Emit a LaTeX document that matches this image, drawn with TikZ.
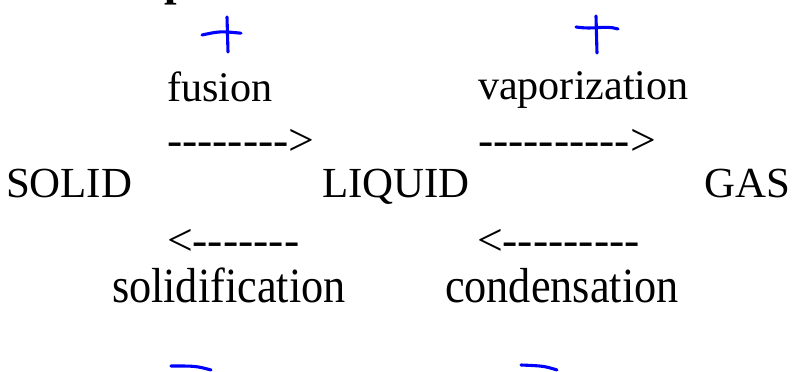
\documentclass[tikz,border=0pt]{standalone}
\usepackage{fontspec}
\usepackage{xcolor}
\setmainfont{Liberation Serif}[Ligatures=TeXOff]
\newfontfamily\narrowserif{Liberation Serif}[Ligatures=TeXOff, FakeStretch=0.9]
\definecolor{inkblue}{HTML}{0000FF}

\begin{document}
\begin{tikzpicture}[
  every node/.style={inner sep=0pt, outer sep=0pt, anchor=base west},
  phase/.style={font=\fontsize{30.5}{36}\selectfont},
  change/.style={font=\fontsize{30}{36}\selectfont},
  dashline/.style={font=\fontsize{32.5}{38}\selectfont},
  backchange/.style={font=\narrowserif\fontsize{35}{42}\selectfont},
  pen/.style={inkblue, line width=2.2pt, line cap=round, line join=round}
]

\useasboundingbox (0,0) rectangle (19.875,9.3);
\clip (0,0) rectangle (19.875,9.3);

%% Title, cut off by the top edge
\node[font=\fontsize{32}{38}\selectfont\bfseries] (title) at (4.1,9.4) {p};

%% Row 1: forward changes
\node[change] (fusion) at (4.175,6.75) {fusion};
\node[change] (vap) at (11.95,6.8) {vaporization};
\node[dashline] (fusarrow) at (4.175,5.42) {-------->};
\node[dashline] (vaparrow) at (11.95,5.42) {---------->};

%% Row 2: the three states
\node[phase] (solid) at (0.15,4.35) {SOLID};
\node[phase] (liquid) at (8.05,4.35) {LIQUID};
\node[phase, anchor=base east] (gas) at (19.75,4.35) {GAS};

%% Row 3: backward changes
\node[dashline] (solarrow) at (4.175,2.9) {<-------};
\node[dashline] (conarrow) at (11.925,2.9) {<---------};
\node[backchange] (solid2) at (2.8,1.74) {solidification};
\node[backchange] (cond) at (11.125,1.74) {condensation};

%% Hand-drawn signs
\draw[pen] (5.05,8.425) .. controls (5.5,8.52) .. (6.025,8.47);
\draw[pen] (5.675,8.875) -- (5.7,8.0);
\draw[pen] (14.4,8.625) .. controls (14.9,8.55) and (15.1,8.68) .. (15.45,8.575);
\draw[pen] (14.9,8.9) -- (14.925,7.975);
\draw[pen] (4.275,0.15) .. controls (4.9,0.15) .. (5.275,0.05);
\draw[pen] (13.025,0.175) .. controls (13.6,0.15) .. (13.925,0.05);

\end{tikzpicture}
\end{document}
